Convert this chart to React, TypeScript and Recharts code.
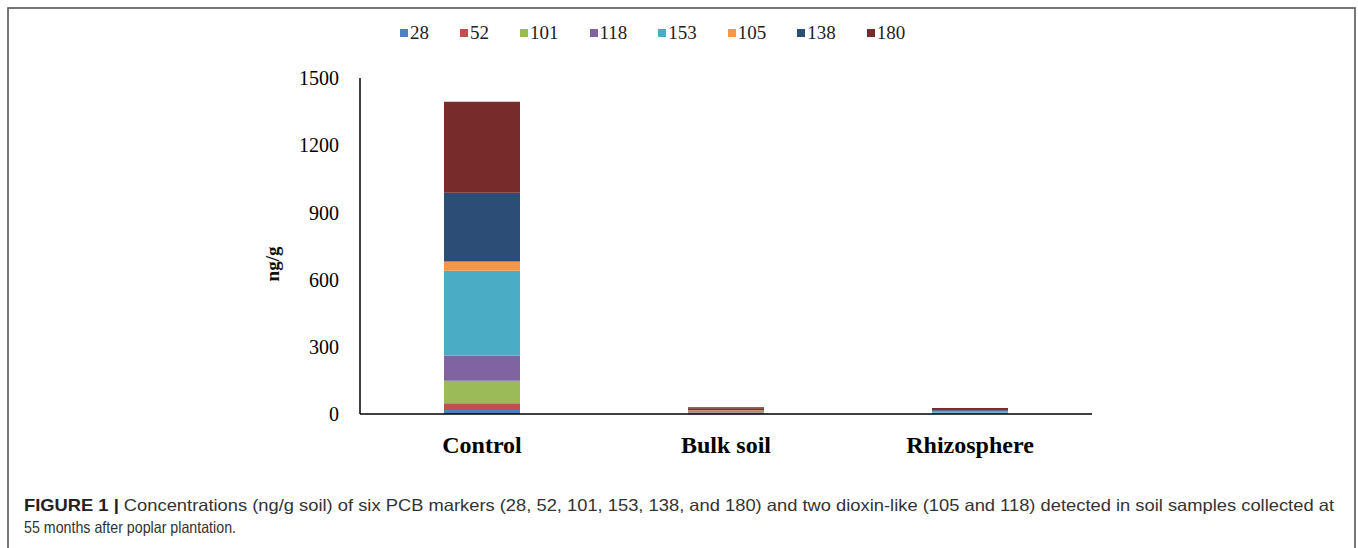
import React from 'react';
import { BarChart, Bar, XAxis, YAxis, Legend } from 'recharts';

const categories = ['Control', 'Bulk soil', 'Rhizosphere'];
const s28 = [18, 2, 2];
const s52 = [30, 2, 1];
const s101 = [100, 3, 2];
const s118 = [113, 2, 1];
const s153 = [378, 4, 7];
const s105 = [42, 4, 1];
const s138 = [307, 6, 8];
const s180 = [406, 7, 5];
const yTicks = [0, 300, 600, 900, 1200, 1500];

const seriesNames = ['28', '52', '101', '118', '153', '105', '138', '180'];
const seriesValues = [s28, s52, s101, s118, s153, s105, s138, s180];
const seriesColors = ['#4F81BD', '#C0504D', '#9BBB59', '#8064A2', '#4BACC6', '#F79646', '#2C4D75', '#772C2A'];

const data = categories.map((name, i) => {
  const row: Record<string, any> = { name };
  seriesNames.forEach((s, k) => {
    row['s' + s] = seriesValues[k][i];
  });
  return row;
});

const serif = '"Liberation Serif", "Times New Roman", serif';
const sans = '"Liberation Sans", Arial, Helvetica, sans-serif';

const LegendContent = () => (
  <div style={{ display: 'flex', alignItems: 'center', fontFamily: serif, fontSize: 19, color: '#222', lineHeight: '22px' }}>
    {seriesNames.map((s, k) => (
      <div key={s} style={{ display: 'flex', alignItems: 'center', marginRight: 31 }}>
        <span style={{ display: 'inline-block', width: 8, height: 8, background: seriesColors[k], marginRight: 2 }} />
        <span>{s}</span>
      </div>
    ))}
  </div>
);

const YLabel = (props: any) => {
  const vb = props.viewBox || { x: 0, y: 0, width: 0, height: 0 };
  const cx = vb.x + vb.width - 88;
  const cy = vb.y + vb.height / 2 + 18;
  return (
    <text
      x={cx}
      y={cy}
      transform={`rotate(-90 ${cx} ${cy})`}
      textAnchor="middle"
      dominantBaseline="central"
      fontFamily={serif}
      fontWeight="bold"
      fontSize={19}
      fill="#111"
    >
      ng/g
    </text>
  );
};

export default function App() {
  return (
    <div style={{ position: 'absolute', left: 0, top: 0, width: 1358, height: 548, background: '#fff', overflow: 'hidden' }}>
      <svg width={1358} height={548} style={{ position: 'absolute', left: 0, top: 0 }}>
        <rect x={8} y={8} width={1347} height={560} fill="none" stroke="#555" strokeWidth={1.6} />
        <text x={24} y={511} fontFamily={sans} fontSize={16.5} fill="#333" textLength={1310} lengthAdjust="spacingAndGlyphs">
          <tspan fontWeight="bold" fill="#222">FIGURE 1 | </tspan>
          <tspan>Concentrations (ng/g soil) of six PCB markers (28, 52, 101, 153, 138, and 180) and two dioxin-like (105 and 118) detected in soil samples collected at</tspan>
        </text>
        <text x={24} y={533} fontFamily={sans} fontSize={16.5} fill="#333" textLength={212} lengthAdjust="spacingAndGlyphs">
          55 months after poplar plantation.
        </text>
      </svg>
      <div style={{ position: 'absolute', left: 0, top: 0 }}>
        <BarChart width={1358} height={548} data={data} margin={{ top: 78, right: 266, bottom: 104, left: 260 }} barSize={76}>
          <XAxis
            dataKey="name"
            height={30}
            tickLine={false}
            tickSize={6}
            tickMargin={16}
            axisLine={{ stroke: '#000', strokeWidth: 1.5 }}
            tick={{ fill: '#000', fontFamily: serif, fontWeight: 'bold', fontSize: 24 }}
            interval={0}
          />
          <YAxis
            width={100}
            domain={[0, 1500]}
            ticks={yTicks}
            interval={0}
            tickLine={false}
            tickSize={6}
            tickMargin={15}
            axisLine={{ stroke: '#000', strokeWidth: 1.5 }}
            tick={{ fill: '#000', fontFamily: serif, fontSize: 20 }}
            label={<YLabel />}
          />
          <Legend
            layout="horizontal"
            verticalAlign="middle"
            content={<LegendContent />}
            wrapperStyle={{ left: 400, top: 22, width: 580, height: 22 }}
          />
          {seriesNames.map((s, k) => (
            <Bar key={s} dataKey={'s' + s} name={s} stackId="a" fill={seriesColors[k]} isAnimationActive={false} />
          ))}
        </BarChart>
      </div>
    </div>
  );
}
